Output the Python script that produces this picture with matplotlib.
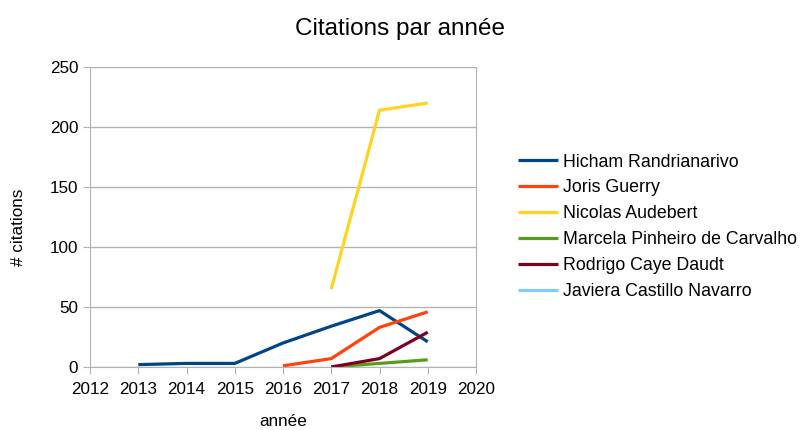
import numpy as np
import matplotlib.pyplot as plt

plt.rcParams['font.family'] = ['Liberation Sans', 'DejaVu Sans']

years = [2012, 2013, 2014, 2015, 2016, 2017, 2018, 2019, 2020]
nan = np.nan

# citations per year for each author (NaN = no value)
hicham = [nan, 2, 3, 3, 20, 34, 47, 21, nan]
joris = [nan, nan, nan, nan, 1, 7, 33, 46, nan]
nicolas = [nan, nan, nan, nan, nan, 65, 214, 220, nan]
marcela = [nan, nan, nan, nan, nan, 0, 3, 6, nan]
rodrigo = [nan, nan, nan, nan, nan, 0, 7, 29, nan]
javiera = [nan] * 9

names = ["Hicham Randrianarivo", "Joris Guerry", "Nicolas Audebert",
         "Marcela Pinheiro de Carvalho", "Rodrigo Caye Daudt",
         "Javiera Castillo Navarro"]
series = [hicham, joris, nicolas, marcela, rodrigo, javiera]
colors = ["#004586", "#ff420e", "#ffd320", "#579d1c", "#7e0021", "#83caff"]

fig = plt.figure(figsize=(8, 4.3), dpi=100)
ax = fig.add_axes([0.1125, 0.1465, 0.4825, 0.6977])

for name, vals, c in zip(names, series, colors):
    ax.plot(years, vals, color=c, lw=2.3, label=name, solid_capstyle='butt')

ax.set_xlim(2012, 2020)
ax.set_ylim(0, 250)
ax.set_xticks(years)
ax.set_yticks(range(0, 251, 50))
ax.grid(axis='y', color='#b3b3b3', lw=1)
ax.set_axisbelow(True)
for s in ax.spines.values():
    s.set_color('#b3b3b3')
ax.tick_params(colors='#b3b3b3', labelcolor='black', labelsize=12.3, length=5)
ax.tick_params(axis='x', pad=6)

ax.set_xlabel("année", fontsize=12.3)
ax.set_ylabel("# citations", fontsize=12.3)
ax.xaxis.set_label_coords(0.5, -0.158)
ax.yaxis.set_label_coords(-0.166, 0.465)
fig.suptitle("Citations par année", fontsize=17.5, y=0.958)

fig.legend(loc='upper left', bbox_to_anchor=(0.6275, 0.68), frameon=False,
           fontsize=12.8, handlelength=2.25, labelspacing=0.5, handletextpad=0.3)

fig.savefig("out.png")
